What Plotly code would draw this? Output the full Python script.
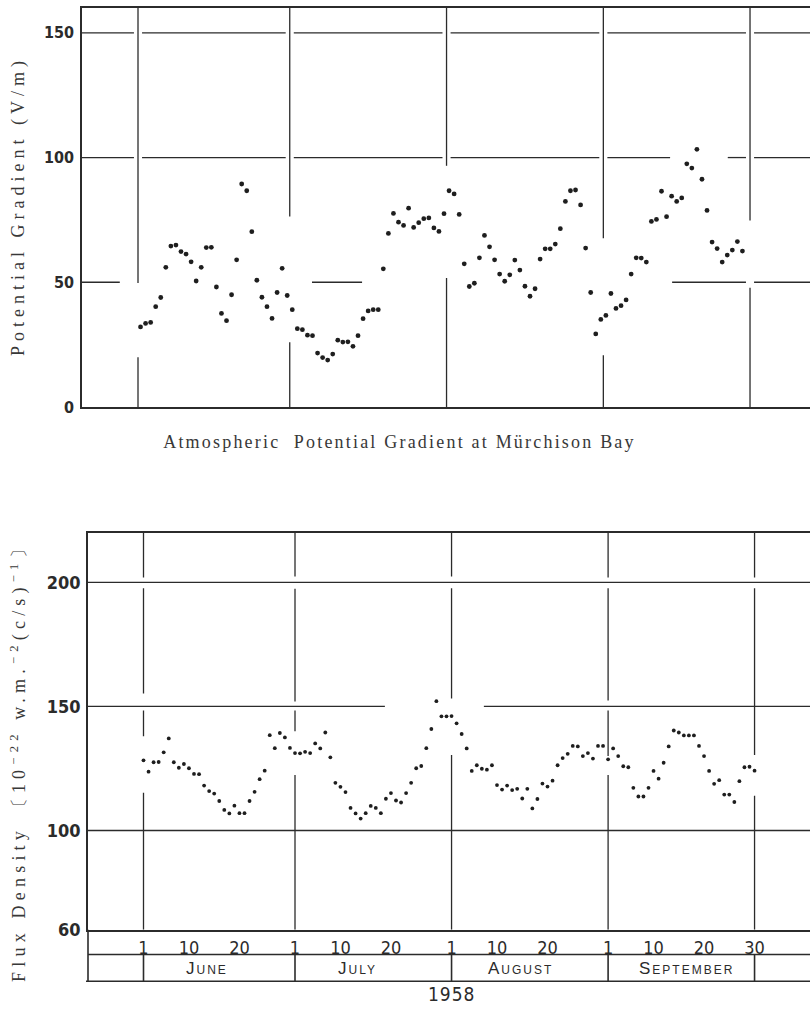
import plotly.graph_objects as go
import pandas as pd

# ---------------- data ----------------
# Atmospheric potential gradient (V/m), daily, from 1 June 1958
pg_start = "1958-06-01 12:00"
pg_values = [
    32.1, 33.5, 33.9, 40.2, 43.9, 56.0, 64.5, 64.9, 62.3, 61.3,
    58.2, 50.5, 56.0, 63.9, 64.0, 48.1, 37.5, 34.6, 45.0, 59.0,
    89.4, 86.7, 70.3, 50.8, 44.0, 40.2, 35.5, 45.9, 55.6, 44.7,
    39.0, 31.4, 31.0, 28.8, 28.6, 21.6, 19.8, 18.8, 21.2, 26.8,
    26.0, 26.1, 24.3, 28.6, 35.4, 38.5, 39.0, 39.0, 55.4, 69.6,
    77.6, 74.1, 72.8, 79.7, 72.0, 73.9, 75.5, 75.8, 71.8, 70.4,
    77.5, 86.7, 85.4, 77.2, 57.4, 48.3, 49.6, 59.8, 68.8, 64.2,
    59.0, 53.3, 50.4, 53.0, 58.9, 54.9, 48.4, 44.4, 47.4, 59.3,
    63.4, 63.4, 65.3, 71.5, 82.4, 86.7, 87.0, 81.0, 63.7, 45.9,
    29.3, 35.1, 36.7, 45.5, 39.5, 40.6, 42.9, 53.3, 59.8, 59.7,
    58.1, 74.4, 75.2, 86.5, 76.3, 84.5, 82.4, 83.8, 97.5, 95.8,
    103.3, 91.3, 78.8, 66.1, 63.5, 58.1, 60.9, 62.9, 66.3, 62.5,
]

# Flux density (10^-22 W m^-2 (c/s)^-1), daily, 1 June - 30 September 1958
flux_start = "1958-06-01"
flux_values = [
    128.3, 123.7, 127.5, 127.6, 131.5, 137.1, 127.5, 125.3, 126.8, 125.1,
    122.8, 122.7, 118.1, 115.9, 114.9, 111.9, 108.3, 106.9, 110.0, 107.0,
    107.0, 111.9, 115.6, 120.7, 124.1, 138.4, 133.2, 139.3, 137.5, 133.3,
    131.2, 131.1, 131.7, 131.2, 135.1, 133.1, 139.5, 129.5, 119.2, 117.6,
    115.5, 109.1, 106.9, 104.8, 107.0, 109.9, 109.1, 107.0, 112.8, 115.1,
    112.1, 111.3, 115.1, 119.2, 125.1, 126.0, 133.2, 140.9, 152.1, 146.0,
    146.0, 146.1, 143.2, 138.9, 133.1, 124.0, 126.3, 124.9, 124.5, 126.3,
    118.3, 116.5, 118.1, 116.3, 116.8, 112.9, 116.8, 108.9, 112.7, 118.9,
    117.7, 120.1, 126.3, 129.2, 130.9, 134.1, 133.9, 130.0, 131.2, 129.0,
    134.1, 134.1, 128.7, 133.1, 130.0, 125.9, 125.5, 117.2, 113.7, 113.7,
    117.2, 124.0, 120.9, 127.3, 133.9, 140.3, 139.5, 138.3, 138.3, 138.3,
    134.1, 130.0, 124.0, 118.8, 120.3, 114.5, 114.5, 111.5, 119.9, 125.5,
    125.7, 124.1,
]

month_lines = ["1958-06-01", "1958-07-01", "1958-08-01", "1958-09-01", "1958-09-30"]
tick_dates = ["1958-06-01", "1958-06-10", "1958-06-20",
              "1958-07-01", "1958-07-10", "1958-07-20",
              "1958-08-01", "1958-08-10", "1958-08-20",
              "1958-09-01", "1958-09-10", "1958-09-20", "1958-09-30"]
tick_text = ["1", "10", "20", "1", "10", "20", "1", "10", "20", "1", "10", "20", "30"]
month_names = ["June", "July", "August", "September"]
year_label = "1958"
pg_yticks = [0, 50, 100, 150]
flux_yticks = [60, 100, 150, 200]
pg_title = "Atmospheric  Potential Gradient at Mürchison Bay"
pg_ylabel = "Potential Gradient (V/m)"
flux_ylabel = "Flux Density 〔10<sup>−22</sup> w.m.<sup>−2</sup>(c/s)<sup>−1</sup>〕"

# ---------------- layout helpers ----------------
W, H = 810, 1019
base = pd.Timestamp("1958-06-01")


def d(days):
    return (base + pd.Timedelta(days=days)).strftime("%Y-%m-%d %H:%M:%S")


def py(px):
    return 1 - px / H


def pxx(px):
    return px / W


INK = "#2b2b2b"
SERIF = "Liberation Serif, DejaVu Serif, serif"
NARROW = "Liberation Sans Narrow, DejaVu Sans Condensed, Liberation Sans, sans-serif"
SANS = "Liberation Sans, DejaVu Sans, sans-serif"

pg_dates = pd.date_range(pg_start, periods=len(pg_values), freq="D")
flux_dates = pd.date_range(flux_start, periods=len(flux_values), freq="D")

fig = go.Figure()
fig.add_trace(go.Scatter(x=pg_dates, y=pg_values, mode="markers", xaxis="x", yaxis="y",
                         marker=dict(size=4.8, color="#1e1e1e"), showlegend=False,
                         hoverinfo="x+y"))
fig.add_trace(go.Scatter(x=flux_dates, y=flux_values, mode="markers", xaxis="x2", yaxis="y2",
                         marker=dict(size=3.8, color="#1e1e1e"), showlegend=False,
                         hoverinfo="x+y"))

shapes = []
GW = 1.3


def seg(xref, yref, x0, x1, y0, y1, w=GW):
    shapes.append(dict(type="line", xref=xref, yref=yref, x0=x0, x1=x1, y0=y0, y1=y1,
                       line=dict(color=INK, width=w), layer="below"))


# month-line day offsets (June 1 = 0) used for the little crossing gaps
cross = [0, 30, 61, 92, 121]
CG = 0.8


def hline_with_gaps(xref, yref, yv, spans):
    """draw a horizontal line over the given day spans, leaving gaps where it crosses
    the month lines (hand-drawn look of the original)"""
    for a, b in spans:
        pts = [a]
        for c in cross:
            if a < c - CG and c + CG < b:
                pts += [c - CG, c + CG]
        pts.append(b)
        for i in range(0, len(pts), 2):
            seg(xref, yref, d(pts[i]), d(pts[i + 1]), yv, yv)


# top panel: horizontal grid
hline_with_gaps("x", "y", 150, [(-15, 140)])
hline_with_gaps("x", "y", 100, [(-15, 105.2), (116.6, 140)])
hline_with_gaps("x", "y", 50, [(-15, -3.6), (34.4, 44.3), (105.6, 140)])
# top panel: vertical grid with gaps
pg_vgaps = [(49.7, 19.9), (76.4, 25.9), (96.7, 51.7), (67.6, 20.7), (74.8, 47.8)]
for m, (g_top, g_bot) in zip(month_lines, pg_vgaps):
    seg("x", "y", m, m, g_top, 160)
    seg("x", "y", m, m, 0, g_bot)

# bottom panel: horizontal grid
seg("x2", "y2", d(-15), d(140), 200, 200)
seg("x2", "y2", d(-15), d(140), 100, 100)
for a, b in [(-15, 47.8), (67.4, 140)]:
    seg("x2", "y2", d(a), d(b), 150, 150)
# bottom panel: vertical grid, list of drawn y-spans per month line
flux_vspans = [
    [(60, 115.2), (138, 148.4), (155.2, 197.6), (202, 220)],
    [(60, 122.4), (140, 148.4), (152, 197.4), (202.4, 220)],
    [(60, 130.4), (153.2, 197.6), (202.4, 220)],
    [(60, 122.4), (130, 148.4), (152.4, 197.6), (202, 220)],
    [(60, 114), (130.4, 197.6), (202, 220)],
]
for m, spans in zip(month_lines, flux_vspans):
    for lo, hi in spans:
        seg("x2", "y2", m, m, lo, hi)

# table under the bottom panel
TW = 1.6
seg("paper", "paper", pxx(88), 1, py(964), py(964), TW)
seg("paper", "paper", pxx(86), 1, py(991), py(991), TW)
seg("paper", "paper", pxx(88), pxx(88), py(939), py(991), TW)
for m in month_lines:
    seg("x2", "paper", m, m, py(964), py(991), TW)

C = dict(xanchor="center", yanchor="middle", showarrow=False)
annotations = [
    dict(text=pg_title, xref="paper", yref="paper", x=pxx(399), y=py(446),
         font=dict(family=SERIF, size=18, color="#383838"), **C),
    dict(text=pg_ylabel, xref="paper", yref="paper", x=pxx(19), y=py(208),
         textangle=-90, font=dict(family=SERIF, size=18, color="#383838"), **C),
    dict(text=flux_ylabel, xref="paper", yref="paper", x=pxx(19), y=py(766),
         textangle=-90, font=dict(family=SERIF, size=18, color="#383838"), **C),
    dict(text=year_label, xref="paper", yref="paper", x=pxx(452), y=py(1004),
         font=dict(family=NARROW, size=19, color=INK), **C),
]
month_pos = [12.6, 42.3, 74.7, 107.6]
for name, pos in zip(month_names, month_pos):
    annotations.append(dict(text=name, xref="x2", yref="paper", x=d(pos), y=py(978),
                            font=dict(family=SANS, size=17, color=INK, variant="small-caps"),
                            **C))

axis_common = dict(showgrid=False, zeroline=False, showline=True, linecolor=INK,
                   linewidth=1.6, ticks="")

fig.update_layout(
    width=W, height=H,
    margin=dict(l=0, r=0, t=0, b=0),
    paper_bgcolor="white", plot_bgcolor="white",
    showlegend=False,
    xaxis=dict(domain=[pxx(82), 1], anchor="y", type="date",
               range=[d(-56 / 5.058), d(672 / 5.058)], showticklabels=False,
               mirror=True, **axis_common),
    yaxis=dict(domain=[py(411), py(8)], anchor="x", range=[0, 160], tickvals=pg_yticks,
               tickfont=dict(family=NARROW, size=16, color=INK, weight="bold"),
               ticklabelstandoff=3, **axis_common),
    xaxis2=dict(domain=[pxx(88), 1], anchor="y2", type="date",
                range=[d(-55.5 / 5.05), d(666.5 / 5.05)], tickvals=tick_dates,
                ticktext=tick_text, tickfont=dict(family=NARROW, size=18, color=INK),
                ticklabelstandoff=1, mirror=True, **axis_common),
    yaxis2=dict(domain=[py(939), py(538)], anchor="x2", range=[60, 220], tickvals=flux_yticks,
                tickfont=dict(family=NARROW, size=18, color=INK, weight="bold"),
                ticklabelstandoff=2, **axis_common),
    shapes=shapes,
    annotations=annotations,
)

post = """
document.documentElement.style.margin = '0';
document.body.style.margin = '0';
document.documentElement.style.overflow = 'hidden';
document.body.style.overflow = 'hidden';
var st = document.createElement('style');
st.textContent =
  '.annotation[data-index="0"] .annotation-text{letter-spacing:2.2px}' +
  '.annotation[data-index="1"] .annotation-text{letter-spacing:5px}' +
  '.annotation[data-index="2"] .annotation-text{letter-spacing:5.2px}' +
  '.annotation[data-index="3"] .annotation-text{letter-spacing:1px}' +
  '.annotation[data-index="4"] .annotation-text,' +
  '.annotation[data-index="5"] .annotation-text,' +
  '.annotation[data-index="6"] .annotation-text,' +
  '.annotation[data-index="7"] .annotation-text{letter-spacing:2px}';
document.head.appendChild(st);
"""

fig.write_html("out.html", post_script=post, config={"displayModeBar": False})
